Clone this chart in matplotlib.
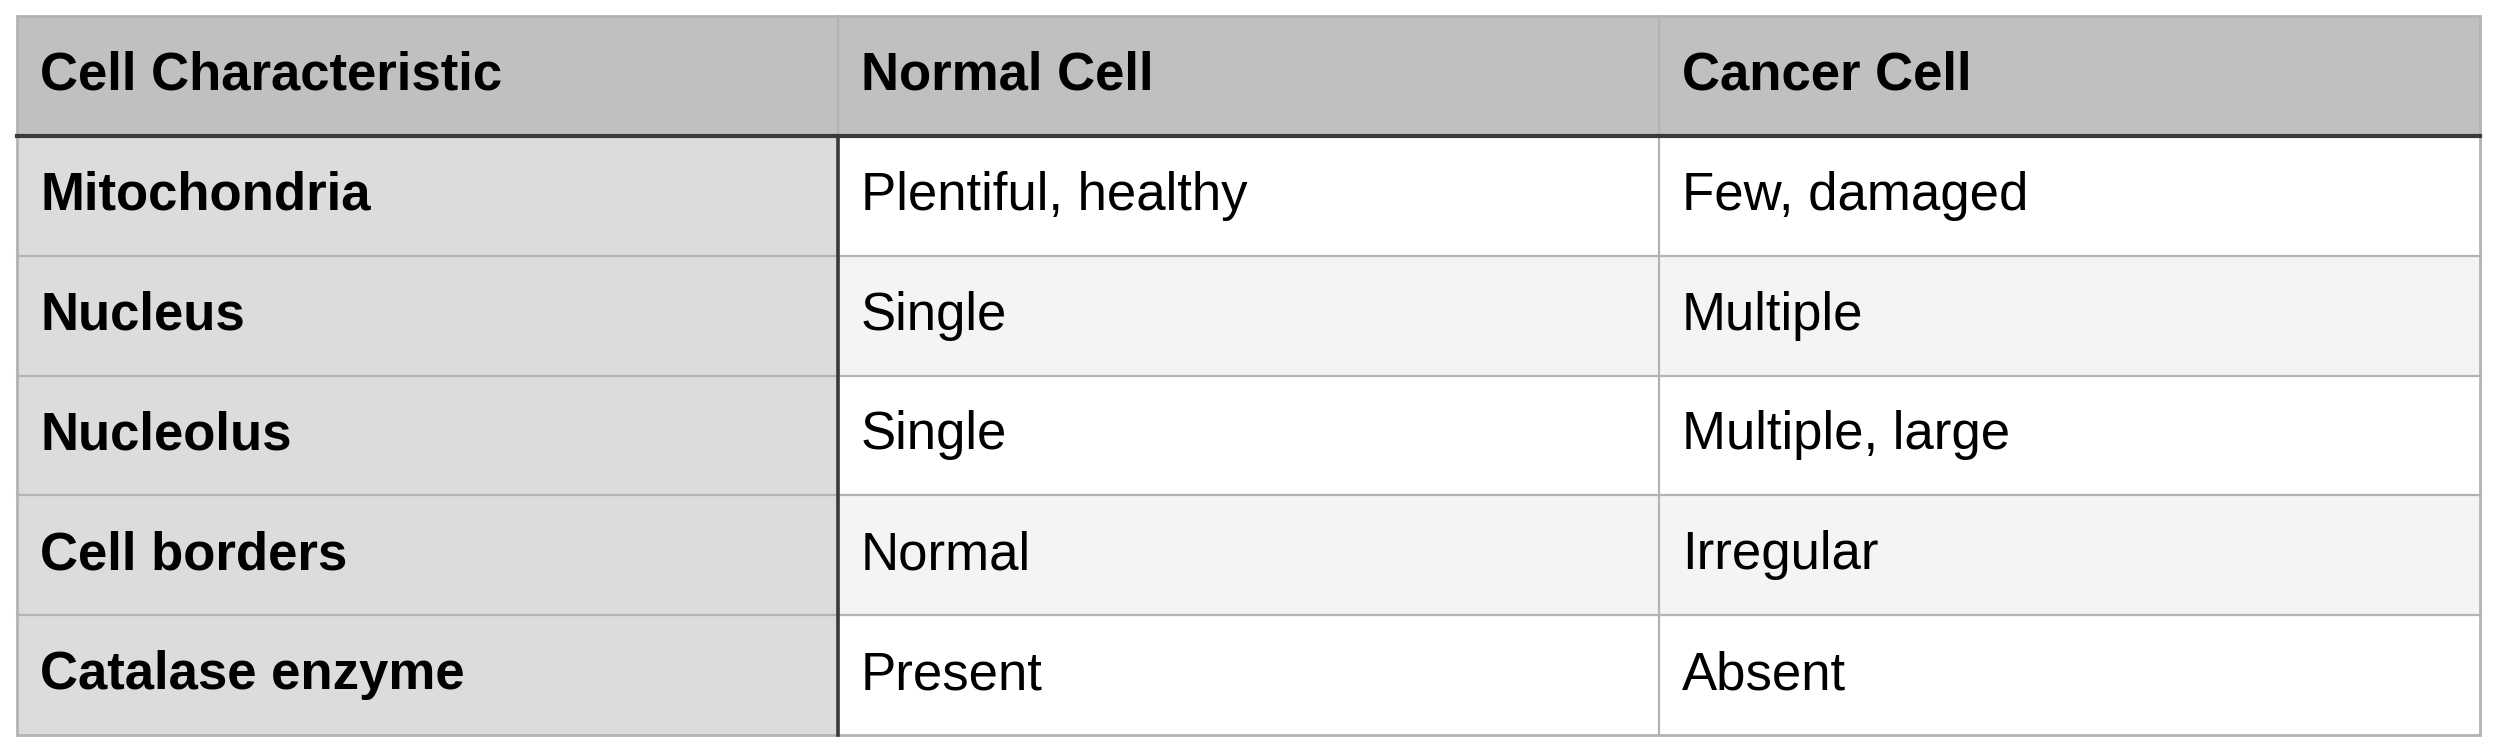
import matplotlib.pyplot as plt
from matplotlib.patches import Rectangle

plt.rcParams['font.family'] = ['Liberation Sans', 'DejaVu Sans']

# Table content
columns = ['Cell Characteristic', 'Normal Cell', 'Cancer Cell']
characteristics = ['Mitochondria', 'Nucleus', 'Nucleolus', 'Cell borders', 'Catalase enzyme']
normal_cell = ['Plentiful, healthy', 'Single', 'Single', 'Normal', 'Present']
cancer_cell = ['Few, damaged', 'Multiple', 'Multiple, large', 'Irregular', 'Absent']

# Layout (pixels)
W, H = 2500, 747
left, right = 17, 2480
top, bottom = 16, 735
n_rows = len(characteristics) + 1
n_cols = len(columns)
row_h = (bottom - top) / n_rows
col_w = (right - left) / n_cols
pad = 23
fs = 38

header_bg = '#bfc1bf'
first_col_bg = '#dcdcdc'
row_bgs = ['#ffffff', '#f4f4f4']
grid_col = '#b3b3b3'
dark_col = '#3a3a3a'

fig = plt.figure(figsize=(W / 100, H / 100), dpi=100)
ax = fig.add_axes([0, 0, 1, 1])
ax.set_xlim(0, W)
ax.set_ylim(H, 0)
ax.axis('off')

rows = [columns] + [list(r) for r in zip(characteristics, normal_cell, cancer_cell)]

for i, row in enumerate(rows):
    y0 = top + i * row_h
    for j, txt in enumerate(row):
        x0 = left + j * col_w
        if i == 0:
            bg = header_bg
        elif j == 0:
            bg = first_col_bg
        else:
            bg = row_bgs[(i - 1) % 2]
        ax.add_patch(Rectangle((x0, y0), col_w, row_h, facecolor=bg,
                               edgecolor='none', zorder=1))
        bold = (i == 0) or (j == 0)
        ax.text(x0 + pad, y0 + 74, txt, fontsize=fs,
                fontweight='bold' if bold else 'normal',
                ha='left', va='baseline', color='black', zorder=5)

# thin grid lines
for i in range(1, n_rows):
    y = top + i * row_h
    ax.plot([left, right], [y, y], color=grid_col, lw=1.6, zorder=2)
for j in range(1, n_cols):
    x = left + j * col_w
    ax.plot([x, x], [top, bottom], color=grid_col, lw=1.6, zorder=2)

# outer border
ax.add_patch(Rectangle((left, top), right - left, bottom - top, facecolor='none',
                       edgecolor=grid_col, lw=2, zorder=3))

# dark header rule and first-column rule
ax.plot([left, right], [top + row_h, top + row_h], color=dark_col, lw=3, zorder=4)
ax.plot([left + col_w, left + col_w], [top + row_h, bottom], color=dark_col, lw=2.6, zorder=4)

fig.savefig('out.png', dpi=100, facecolor='white')
